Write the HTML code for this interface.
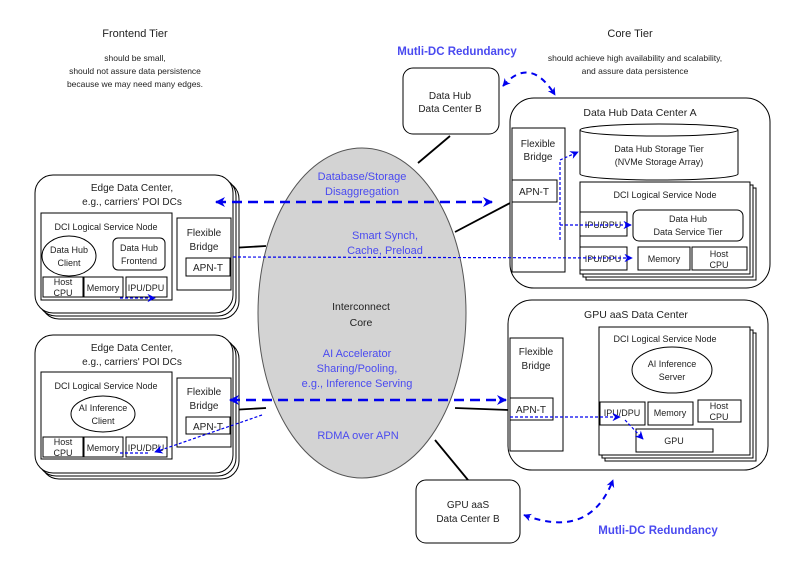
<!DOCTYPE html>
<html><head><meta charset="utf-8"><style>
html,body{margin:0;padding:0;background:#fff;}
svg{display:block;font-family:"Liberation Sans",sans-serif;}
</style></head><body>
<svg width="793" height="563" viewBox="0 0 793 563" xmlns="http://www.w3.org/2000/svg">
<defs>
<marker id="ab" viewBox="0 0 10 10" refX="9" refY="5" markerWidth="4" markerHeight="4" orient="auto-start-reverse"><path d="M0,0 L10,5 L0,10 L3,5 Z" fill="#0000ee"/></marker>
<marker id="as" viewBox="0 0 10 10" refX="9" refY="5" markerWidth="7" markerHeight="7" orient="auto-start-reverse"><path d="M0,0 L10,5 L0,10 L3,5 Z" fill="#0000ee"/></marker>
</defs>
<g fill="#222" font-size="10" text-anchor="middle">
<text x="135" y="37" font-size="11">Frontend Tier</text>
<text x="135" y="61" font-size="8.5">should be small,</text>
<text x="135" y="74" font-size="8.5">should not assure data persistence</text>
<text x="135" y="87" font-size="8.5">because we may need many edges.</text>
<text x="630" y="37" font-size="11">Core Tier</text>
<text x="635" y="61" font-size="8.5">should achieve high availability and scalability,</text>
<text x="635" y="74" font-size="8.5">and assure data persistence</text>
</g>
<text x="457" y="55" font-size="11.5" font-weight="bold" fill="#4a4af0" text-anchor="middle">Mutli-DC Redundancy</text>
<text x="658" y="534" font-size="11.5" font-weight="bold" fill="#4a4af0" text-anchor="middle">Mutli-DC Redundancy</text>

<g stroke="#000" stroke-width="1.8" fill="none">
<line x1="450" y1="136" x2="418" y2="163"/>
<line x1="455" y1="232" x2="512" y2="202"/>
<line x1="455" y1="408" x2="510" y2="410"/>
<line x1="435" y1="440" x2="468" y2="480"/>
<line x1="231" y1="248" x2="266" y2="246"/>
<line x1="231" y1="410" x2="266" y2="408"/>
</g>
<ellipse cx="362" cy="313" rx="104" ry="165" fill="#d3d3d3" stroke="#555" stroke-width="1"/>

<g stroke="#000" stroke-width="1" fill="#fff">
<rect x="403" y="68" width="96" height="66" rx="10"/>
<rect x="416" y="480" width="104" height="63" rx="10"/>
<rect x="510" y="98" width="260" height="190" rx="24"/>
<rect x="512" y="128" width="53" height="144"/>
<rect x="512" y="180" width="45" height="22"/>
<path d="M580,130 v44 a79,6 0 0 0 158,0 v-44"/>
<ellipse cx="659" cy="130" rx="79" ry="6"/>
<rect x="586" y="188" width="170" height="92"/>
<rect x="583" y="185" width="170" height="92"/>
<rect x="580" y="182" width="170" height="92"/>
<rect x="580" y="212" width="47" height="24"/>
<rect x="633" y="210" width="110" height="31" rx="6"/>
<rect x="580" y="247" width="47" height="23"/>
<rect x="638" y="247" width="52" height="23"/>
<rect x="692" y="247" width="55" height="23"/>
<rect x="508" y="300" width="260" height="170" rx="24"/>
<rect x="510" y="338" width="53" height="113"/>
<rect x="510" y="398" width="43" height="22"/>
<rect x="605" y="333" width="151" height="128"/>
<rect x="602" y="330" width="151" height="128"/>
<rect x="599" y="327" width="151" height="128"/>
<ellipse cx="672" cy="370" rx="40" ry="23"/>
<rect x="600" y="402" width="45" height="23"/>
<rect x="648" y="402" width="45" height="23"/>
<rect x="698" y="400" width="43" height="22"/>
<rect x="636" y="429" width="77" height="23"/>
<rect x="41" y="181" width="198" height="138" rx="18"/>
<rect x="38" y="178" width="198" height="138" rx="18"/>
<rect x="35" y="175" width="198" height="138" rx="18"/>
<rect x="41" y="213" width="131" height="87"/>
<ellipse cx="69" cy="256" rx="27" ry="20"/>
<rect x="113" y="238" width="52" height="32" rx="5"/>
<rect x="43" y="277" width="40" height="20"/>
<rect x="84" y="277" width="39" height="20"/>
<rect x="126" y="277" width="41" height="20"/>
<rect x="177" y="218" width="54" height="72"/>
<rect x="186" y="258" width="44" height="18"/>
<rect x="41" y="341" width="198" height="138" rx="18"/>
<rect x="38" y="338" width="198" height="138" rx="18"/>
<rect x="35" y="335" width="198" height="138" rx="18"/>
<rect x="41" y="372" width="131" height="87"/>
<ellipse cx="103" cy="414" rx="32" ry="18"/>
<rect x="43" y="437" width="40" height="20"/>
<rect x="84" y="437" width="39" height="20"/>
<rect x="126" y="437" width="41" height="20"/>
<rect x="177" y="378" width="54" height="69"/>
<rect x="186" y="417" width="44" height="17"/>
</g>

<g fill="#222" font-size="10" text-anchor="middle">
<text x="450" y="99">Data Hub</text><text x="450" y="112">Data Center B</text>
<text x="468" y="508">GPU aaS</text><text x="468" y="522">Data Center B</text>
<text x="640" y="116" font-size="10.5">Data Hub Data Center A</text>
<text x="538" y="147">Flexible</text><text x="538" y="160">Bridge</text>
<text x="534" y="195">APN-T</text>
<text x="659" y="152" font-size="9">Data Hub Storage Tier</text>
<text x="659" y="165" font-size="9">(NVMe Storage Array)</text>
<text x="665" y="198" font-size="9">DCI Logical Service Node</text>
<text x="603" y="228" font-size="9">IPU/DPU</text>
<text x="688" y="222" font-size="9">Data Hub</text><text x="688" y="235" font-size="9">Data Service Tier</text>
<text x="603" y="262" font-size="9">IPU/DPU</text>
<text x="664" y="262" font-size="9">Memory</text>
<text x="719" y="257" font-size="9">Host</text><text x="719" y="268" font-size="9">CPU</text>
<text x="636" y="318" font-size="10.5">GPU aaS Data Center</text>
<text x="536" y="355">Flexible</text><text x="536" y="369">Bridge</text>
<text x="531" y="413">APN-T</text>
<text x="665" y="342" font-size="9">DCI Logical Service Node</text>
<text x="672" y="367" font-size="9">AI Inference</text><text x="672" y="380" font-size="9">Server</text>
<text x="622" y="416" font-size="9">IPU/DPU</text>
<text x="670" y="416" font-size="9">Memory</text>
<text x="719" y="409" font-size="9">Host</text><text x="719" y="420" font-size="9">CPU</text>
<text x="674" y="444" font-size="9">GPU</text>
<text x="132" y="191">Edge Data Center,</text><text x="132" y="205">e.g., carriers' POI DCs</text>
<text x="106" y="230" font-size="9">DCI Logical Service Node</text>
<text x="69" y="253" font-size="9">Data Hub</text><text x="69" y="266" font-size="9">Client</text>
<text x="139" y="251" font-size="9">Data Hub</text><text x="139" y="264" font-size="9">Frontend</text>
<text x="63" y="285" font-size="9">Host</text><text x="63" y="296" font-size="9">CPU</text>
<text x="103" y="291" font-size="9">Memory</text>
<text x="146" y="291" font-size="9">IPU/DPU</text>
<text x="204" y="236">Flexible</text><text x="204" y="250">Bridge</text>
<text x="208" y="271">APN-T</text>
<text x="132" y="351">Edge Data Center,</text><text x="132" y="365">e.g., carriers' POI DCs</text>
<text x="106" y="389" font-size="9">DCI Logical Service Node</text>
<text x="103" y="411" font-size="9">AI Inference</text><text x="103" y="424" font-size="9">Client</text>
<text x="63" y="445" font-size="9">Host</text><text x="63" y="456" font-size="9">CPU</text>
<text x="103" y="451" font-size="9">Memory</text>
<text x="146" y="451" font-size="9">IPU/DPU</text>
<text x="204" y="395">Flexible</text><text x="204" y="409">Bridge</text>
<text x="208" y="430">APN-T</text>
<text x="361" y="310" font-size="10.5">Interconnect</text><text x="361" y="326" font-size="10.5">Core</text>
</g>
<g fill="#4a4af0" font-size="11" text-anchor="middle">
<text x="362" y="180">Database/Storage</text><text x="362" y="195">Disaggregation</text>
<text x="385" y="239">Smart Synch,</text><text x="385" y="254">Cache, Preload</text>
<text x="357" y="357">AI Accelerator</text><text x="357" y="372">Sharing/Pooling,</text><text x="357" y="387">e.g., Inference Serving</text>
<text x="358" y="439">RDMA over APN</text>
</g>

<g stroke="#0000ee" fill="none">
<line x1="216" y1="202" x2="492" y2="202" stroke-width="2.5" stroke-dasharray="10,6" marker-start="url(#ab)" marker-end="url(#ab)"/>
<line x1="230" y1="400" x2="506" y2="400" stroke-width="2.5" stroke-dasharray="10,6" marker-start="url(#ab)" marker-end="url(#ab)"/>
<path d="M503,86 Q530,55 555,95" stroke-width="2" stroke-dasharray="6,5" marker-start="url(#ab)" marker-end="url(#ab)"/>
<path d="M524,515 Q590,540 613,480" stroke-width="2" stroke-dasharray="6,5" marker-start="url(#ab)" marker-end="url(#ab)"/>
<g stroke-width="1.2" stroke-dasharray="3,2">
<line x1="233" y1="257" x2="632" y2="258" marker-end="url(#as)"/>
<path d="M560,240 V160 L578,152" marker-end="url(#as)"/>
<line x1="560" y1="225" x2="631" y2="225" marker-end="url(#as)"/>
<line x1="510" y1="417" x2="620" y2="417" marker-end="url(#as)"/>
<line x1="625" y1="420" x2="643" y2="439" marker-end="url(#as)"/>
<line x1="120" y1="298" x2="155" y2="298" marker-end="url(#as)"/>
<path d="M262,415 L155,452" marker-end="url(#as)"/>
<line x1="120" y1="453" x2="150" y2="453"/>
</g>
</g>
</svg>
</body></html>
